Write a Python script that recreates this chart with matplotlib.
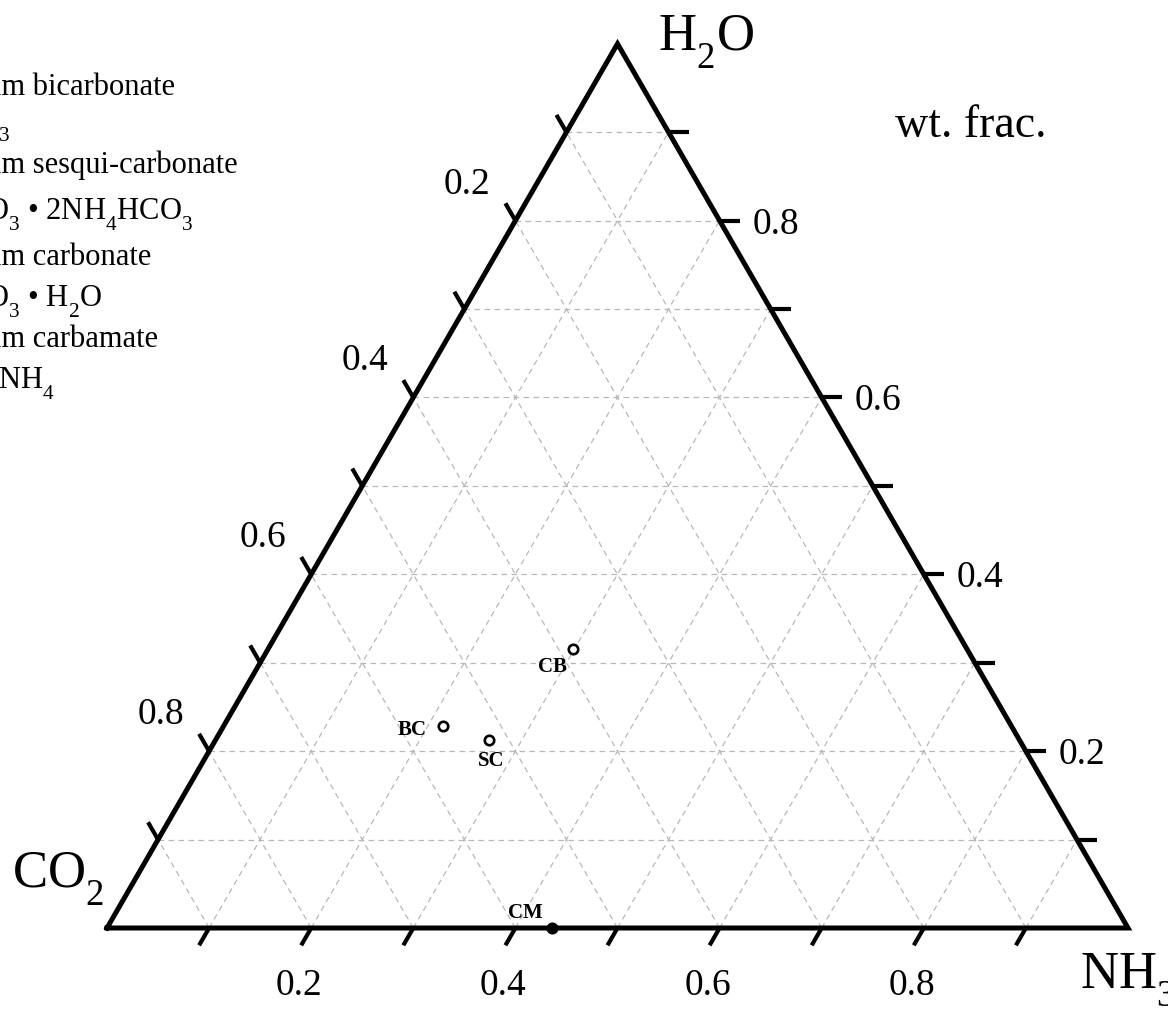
import numpy as np
import matplotlib
matplotlib.use("Agg")
import matplotlib.pyplot as plt
import matplotlib._mathtext as mathtext_internals

plt.rcParams["font.family"] = "Liberation Serif"
plt.rcParams["mathtext.fontset"] = "custom"
plt.rcParams["mathtext.rm"] = "Liberation Serif"
plt.rcParams["mathtext.it"] = "Liberation Serif:italic"
plt.rcParams["mathtext.bf"] = "Liberation Serif:bold"
# drop chemical subscripts lower, like typeset formulas
mathtext_internals.FontConstantsBase.sub1 = 0.75

# compounds, weight fractions
names = ["BC", "SC", "CB", "CM"]
co2 = [0.557, 0.519, 0.386, 0.564]
h2o = [0.228, 0.213, 0.316, 0.000]
nh3 = [0.215, 0.268, 0.298, 0.436]
filled = [False, False, False, True]

# label offsets in pixels (dx, dy baseline) for each compound
label_off = [(-31, -9), (2, -26), (-20, -23), (-27, 10)]

tick_vals = [0.1, 0.2, 0.3, 0.4, 0.5, 0.6, 0.7, 0.8, 0.9]
label_vals = [0.2, 0.4, 0.6, 0.8]
label_txt = ["0.2", "0.4", "0.6", "0.8"]

legend_lines = [
    "Ammonium bicarbonate",
    r"NH$_4$HCO$_3$",
    "Ammonium sesqui-carbonate",
    r"(NH$_4$)$_2$CO$_3$ • 2NH$_4$HCO$_3$",
    "Ammonium carbonate",
    r"(NH$_4$)$_2$CO$_3$ • H$_2$O",
    "Ammonium carbamate",
    r"NH$_2$COONH$_4$",
]
legend_y = [95, 131, 173, 220, 265, 307, 347, 389]

W, H = 1168, 1009
S = 1021.0          # pixels per unit side
X0, Y0 = 107, 928   # CO2 corner in pixels
R3 = np.sqrt(3) / 2


def to_xy(n, w):
    n = np.asarray(n, float)
    w = np.asarray(w, float)
    return n + w / 2, w * R3


fig = plt.figure(figsize=(W / 100, H / 100), dpi=100)
ax = fig.add_axes([0, 0, 1, 1])
ax.set_xlim(-X0 / S, (W - X0) / S)
ax.set_ylim(-(H - Y0) / S, Y0 / S)
ax.axis("off")

# dashed grid
gkw = dict(color="#b8b8b8", lw=0.9, dashes=(4.5, 3.5), zorder=1)
for v in tick_vals:
    x, y = to_xy([v, v], [0, 1 - v])
    ax.plot(x, y, **gkw)
    x, y = to_xy([0, 1 - v], [v, v])
    ax.plot(x, y, **gkw)
    x, y = to_xy([1 - v, 0], [0, 1 - v])
    ax.plot(x, y, **gkw)

# frame
x, y = to_xy([0, 1, 0, 0], [0, 0, 1, 0])
ax.plot(x, y, color="black", lw=3.6, solid_joinstyle="miter", zorder=3)

# ticks
L = 20 / S
tkw = dict(color="black", lw=3.0, solid_capstyle="butt", zorder=3)
for v in tick_vals:
    # bottom (NH3)
    bx, by = to_xy(v, 0)
    ax.plot([bx, bx - 0.5 * L], [by, by - R3 * L], **tkw)
    # right (H2O)
    rx, ry = to_xy(1 - v, v)
    ax.plot([rx, rx + L], [ry, ry], **tkw)
    # left (CO2)
    lx, ly = to_xy(0, 1 - v)
    ax.plot([lx, lx - 0.5 * L], [ly, ly + R3 * L], **tkw)

for v, t in zip(label_vals, label_txt):
    bx, by = to_xy(v, 0)
    ax.annotate(t, (bx, by), xytext=(-12, -67), textcoords="offset pixels",
                ha="center", va="baseline", fontsize=27)
    rx, ry = to_xy(1 - v, v)
    ax.annotate(t, (rx, ry), xytext=(33, -13), textcoords="offset pixels",
                ha="left", va="baseline", fontsize=27)
    lx, ly = to_xy(0, 1 - v)
    ax.annotate(t, (lx, ly), xytext=(-48, 27), textcoords="offset pixels",
                ha="center", va="baseline", fontsize=27)

# compounds
px, py = to_xy(nh3, h2o)
for i in range(len(names)):
    ax.plot(px[i], py[i], "o", ms=6.8, mew=1.9, mec="black",
            mfc="black" if filled[i] else "white", zorder=5)
    ax.annotate(names[i], (px[i], py[i]), xytext=label_off[i],
                textcoords="offset pixels", ha="center", va="baseline",
                fontsize=15, fontweight="bold", zorder=6)

# corner labels
fig.text(658 / W, 1 - 50 / H, r"H$_2$O", fontsize=38, ha="left", va="baseline")
fig.text(12 / W, 1 - 887 / H, r"CO$_2$", fontsize=38, ha="left", va="baseline")
fig.text(1080 / W, 1 - 988 / H, r"NH$_3$", fontsize=38, ha="left", va="baseline")
fig.text(895 / W, 1 - 137 / H, "wt. frac.", fontsize=33, ha="left", va="baseline")

# compound key, running off the left edge
for s, yy in zip(legend_lines, legend_y):
    fig.text(-122 / W, 1 - yy / H, s, fontsize=22, ha="left", va="baseline")

fig.savefig("out.png", dpi=100)
